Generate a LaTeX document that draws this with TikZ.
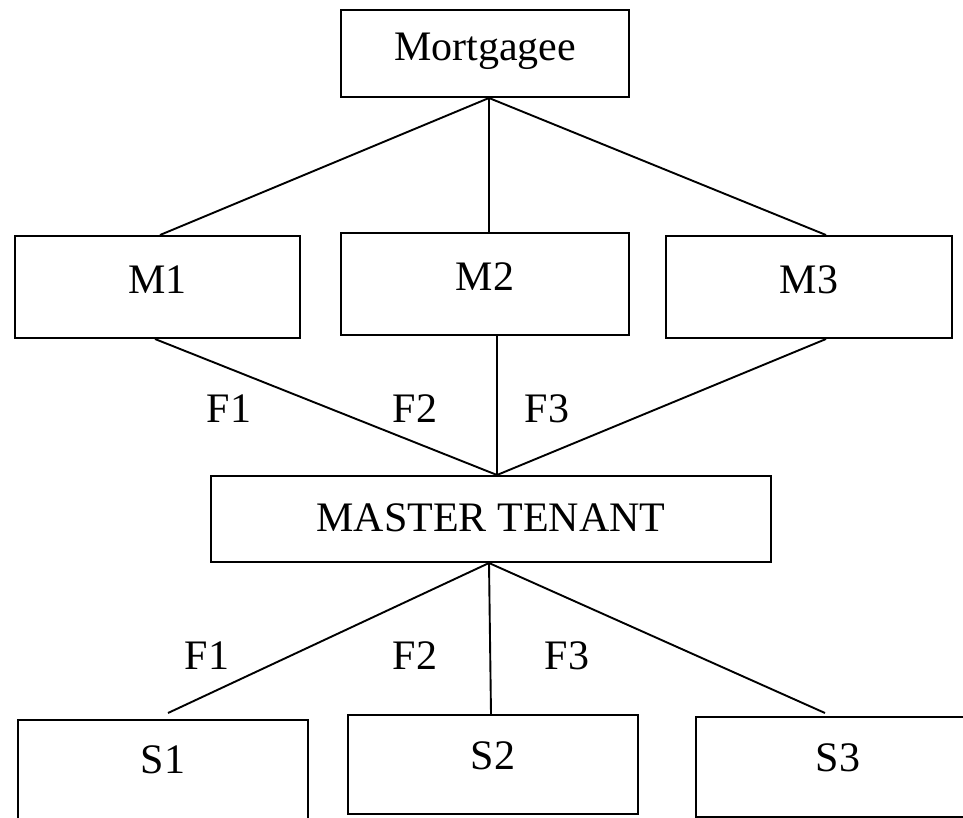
\documentclass[tikz,border=0pt]{standalone}
\usepackage{fontspec}
\setmainfont{Liberation Serif}
\usepackage{tikz}
\usetikzlibrary{positioning}

\tikzset{
  mbox/.style={draw, line width=2pt, minimum width=286pt, minimum height=102pt,
    text height=30pt, text depth=18pt, inner sep=0pt},
  flabel/.style={inner sep=0pt},
  link/.style={line width=1.9pt}
}

\begin{document}
\begin{tikzpicture}[x=1pt, y=-1pt, font=\fontsize{42}{50}\selectfont]
  \useasboundingbox (0,0) rectangle (963,817);
  \clip (0,0) rectangle (963,817);

  % boxes
  \node[mbox, minimum width=288pt, minimum height=87pt, text depth=16pt] (mg) at (485,53.5) {Mortgagee};
  \node[mbox, minimum width=285pt] (m1) at (157.5,287) {M1};
  \node[mbox, minimum width=288pt] (m2) at (485,284) {M2};
  \node[mbox] (m3) at (809,287) {M3};
  \node[mbox, minimum width=560pt, minimum height=86pt, text depth=6pt] (mt) at (491,519) {MASTER TENANT};
  \node[mbox, minimum width=290pt, minimum height=100pt, text depth=24pt] (s1) at (163,770) {S1};
  \node[mbox, minimum width=290pt, minimum height=99pt, text depth=20pt] (s2) at (493,764.5) {S2};
  \node[mbox, minimum width=284pt, minimum height=100pt, text depth=22pt] (s3) at (838,767) {S3};

  % mortgagee to M1..M3
  \draw[link] ([xshift=4pt]mg.south) -- ([xshift=2.5pt]m1.north);
  \draw[link] ([xshift=4pt]mg.south) -- ([xshift=4pt]m2.north);
  \draw[link] ([xshift=4pt]mg.south) -- ([xshift=17pt]m3.north);

  % M1..M3 to master tenant
  \draw[link] ([xshift=-2.5pt]m1.south) -- ([xshift=6pt]mt.north);
  \draw[link] ([xshift=12pt]m2.south) -- ([xshift=6pt]mt.north);
  \draw[link] ([xshift=17pt]m3.south) -- ([xshift=6pt]mt.north);
  \node[flabel] (f1a) at (229,409) {F1};
  \node[flabel] (f2a) at (415,409) {F2};
  \node[flabel] (f3a) at (547,409) {F3};

  % master tenant to S1..S3
  \draw[link] ([xshift=-2pt]mt.south) -- ([xshift=5pt, yshift=6pt]s1.north);
  \draw[link] ([xshift=-2pt]mt.south) -- ([xshift=-2pt]s2.north);
  \draw[link] ([xshift=-2pt]mt.south) -- ([xshift=-13pt, yshift=3pt]s3.north);
  \node[flabel] (f1b) at (207,656) {F1};
  \node[flabel] (f2b) at (415,656) {F2};
  \node[flabel] (f3b) at (567,656) {F3};
\end{tikzpicture}
\end{document}
